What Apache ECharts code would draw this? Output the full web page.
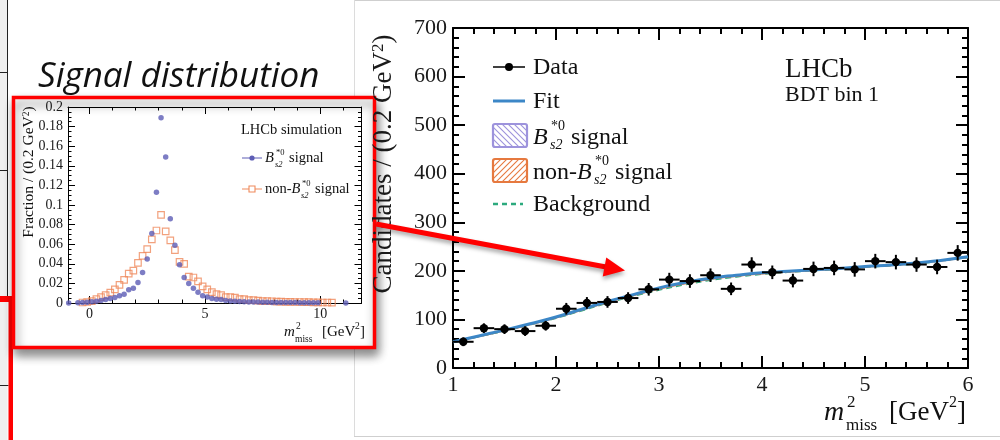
<!DOCTYPE html>
<html><head><meta charset="utf-8">
<script src="https://cdn.jsdelivr.net/npm/echarts@6/dist/echarts.min.js"></script>
<style>html,body{margin:0;padding:0;background:#fff}#c{width:1000px;height:440px}</style>
</head><body><div id="c"></div>
<script>
// ---------------- inset (simulation) data ----------------
var insetSigX = [-0.9,-0.5,-0.3,-0.1,0.1,0.3,0.5,0.7,0.9,1.1,1.3,1.5,1.7,1.9,2.1,2.3,2.5,2.7,2.9,3.1,3.3,3.5,3.7,3.9,4.1,4.3,4.5,4.7,4.9,5.1,5.3,5.5,5.7,5.9,6.1,6.3,6.5,6.7,6.9,7.1,7.3,7.5,7.7,7.9,8.1,8.3,8.5,8.7,8.9,9.1,9.3,9.5,9.7,9.9,11.1];
var insetSigY = [0,0.0002,0.0004,0.0008,0.0012,0.0018,0.0025,0.0035,0.0045,0.0055,0.0075,0.009,0.0135,0.015,0.021,0.031,0.045,0.071,0.113,0.189,0.149,0.086,0.059,0.039,0.026,0.02,0.015,0.011,0.0075,0.006,0.0045,0.0038,0.0035,0.0025,0.002,0.0018,0.0015,0.0012,0.001,0.001,0.0009,0.0008,0.0007,0.0006,0.0006,0.0005,0.0005,0.0004,0.0004,0.0003,0.0003,0.0003,0.0002,0.0002,0];
var insetNonX = [-0.3,-0.1,0.1,0.3,0.5,0.7,0.9,1.1,1.3,1.5,1.7,1.9,2.1,2.3,2.5,2.7,2.9,3.1,3.3,3.5,3.7,3.9,4.1,4.3,4.5,4.7,4.9,5.1,5.3,5.5,5.7,5.9,6.1,6.3,6.5,6.7,6.9,7.1,7.3,7.5,7.7,7.9,8.1,8.3,8.5,8.7,8.9,9.1,9.3,9.5,9.7,9.9,10.1,10.3,10.5];
var insetNonY = [0.0005,0.001,0.002,0.004,0.006,0.008,0.0105,0.014,0.0185,0.0235,0.03,0.033,0.041,0.048,0.055,0.065,0.074,0.09,0.073,0.064,0.054,0.042,0.04,0.027,0.026,0.022,0.017,0.014,0.011,0.009,0.008,0.006,0.006,0.0055,0.004,0.004,0.003,0.003,0.0025,0.002,0.002,0.0018,0.0015,0.0015,0.0012,0.0012,0.001,0.001,0.0008,0.0008,0.0006,0.0006,0.0005,0.0005,0.0004];
var insetXRange = [-0.93, 11.78];
var insetXTicks = [0, 5, 10];
var insetYTicks = [0, 0.02, 0.04, 0.06, 0.08, 0.1, 0.12, 0.14, 0.16, 0.18, 0.2];

// ---------------- main (data fit) data ----------------
var mainBinX = [1.1,1.3,1.5,1.7,1.9,2.1,2.3,2.5,2.7,2.9,3.1,3.3,3.5,3.7,3.9,4.1,4.3,4.5,4.7,4.9,5.1,5.3,5.5,5.7,5.9];
var mainCounts = [54,82,80,76,87,122,134,136,144,162,182,179,191,163,213,197,180,204,206,203,220,218,213,208,237];
var mainErr = [9,10,10,10,10,12,12,12,12,13,14,14,14,13,15,14,14,15,15,15,15,15,15,15,16];
var binHalf = 0.1;
var fitX = [1.0,1.25,1.5,1.75,2.0,2.25,2.5,2.75,3.0,3.25,3.5,3.75,4.0,4.25,4.5,4.75,5.0,5.25,5.5,5.75,6.0];
var fitY = [54,66,78,91,105,121,137,151,165,176,185,191,196,199,202,205,209,212,216,222,229];
var bkgY = [53,65,76.5,89.5,103,118.5,134,148,161,172,181,188,193.5,197.5,201,204,208,211,215,221,228];
var nonBY = [53.5,65.5,77,90,104,120,135.5,149.5,163,174,183,189.5,194.5,198,201.5,204.5,208.5,211.5,215.5,221.5,228.5];
var mainXTicks = [1, 2, 3, 4, 5, 6];
var mainYTicks = [0, 100, 200, 300, 400, 500, 600, 700];

var SERIF = 'Liberation Serif';
function zip(a, b) { return a.map(function (v, i) { return [v, b[i]]; }); }
function zip3(a, b, c) { return a.map(function (v, i) { return [v, b[i], c[i]]; }); }

function hatch(color, dir) {
  var c = document.createElement('canvas'); c.width = 6; c.height = 6;
  var g = c.getContext('2d'); g.strokeStyle = color; g.lineWidth = 1.1;
  g.beginPath();
  if (dir > 0) { g.moveTo(-1, 7); g.lineTo(7, -1); g.moveTo(-4, 4); g.lineTo(4, -4); g.moveTo(2, 10); g.lineTo(10, 2); }
  else { g.moveTo(-1, -1); g.lineTo(7, 7); g.moveTo(-4, 2); g.lineTo(4, 10); g.moveTo(2, -4); g.lineTo(10, 4); }
  g.stroke();
  return { image: c, repeat: 'repeat' };
}

function T(text, x, base, size, o) {
  o = o || {};
  return {
    type: 'text', x: x, y: base - 0.3 * size, z: o.z == null ? 20 : o.z, rotation: o.rot || 0,
    style: { text: text, fontSize: size, fontFamily: o.family || SERIF, fontStyle: o.italic ? 'italic' : 'normal',
      fill: o.color || '#111',
      align: o.align || 'left', textAlign: o.align || 'left',
      verticalAlign: 'middle', textVerticalAlign: 'middle' }
  };
}
function L(x1, y1, x2, y2, color, w, o) {
  o = o || {};
  return { type: 'line', z: o.z == null ? 20 : o.z, shape: { x1: x1, y1: y1, x2: x2, y2: y2 },
    style: { stroke: color, lineWidth: w, lineDash: o.dash || null } };
}

var graphics = [];
// slide decorations (left edge)
graphics.push({ type: 'rect', z: -10, shape: { x: 0, y: 0, width: 7.5, height: 440 }, style: { fill: '#efefef' } });
graphics.push(L(7.5, 0, 7.5, 298, '#222', 1, { z: -9 }));
graphics.push(L(0, 72.5, 7.5, 72.5, '#222', 1, { z: -9 }));
graphics.push(L(0, 170.5, 7.5, 170.5, '#222', 1, { z: -9 }));
graphics.push(L(0, 385.5, 8.5, 385.5, '#222', 1, { z: -9 }));
graphics.push({ type: 'rect', z: -8, shape: { x: 0, y: 296, width: 13, height: 6 }, style: { fill: '#ff0000' } });
graphics.push({ type: 'rect', z: -8, shape: { x: 8.5, y: 296, width: 4.5, height: 144 }, style: { fill: '#ff0000' } });
// screenshot frame of the right picture
graphics.push(L(354, 0.5, 1000, 0.5, '#cfcfcf', 1, { z: -9 }));
graphics.push(L(354.5, 0, 354.5, 437, '#dcdcdc', 1, { z: -9 }));
graphics.push(L(354, 436.5, 1000, 436.5, '#cfcfcf', 1, { z: -9 }));
// inset red frame with shadow
graphics.push({ type: 'rect', z: -5, shape: { x: 13.5, y: 97.5, width: 361, height: 250 },
  style: { fill: '#ffffff', stroke: '#ff0000', lineWidth: 3.5, shadowBlur: 10, shadowOffsetX: 2, shadowOffsetY: 6, shadowColor: 'rgba(0,0,0,0.45)' } });
// title
graphics.push(T('Signal distribution', 38, 88, 35, { italic: true, family: 'Open Sans', color: '#111' }));

// inset axis titles
graphics.push({ type: 'text', x: 29, y: 172, rotation: Math.PI / 2, z: 20,
  style: { text: '{a|Fraction / (0.2 GeV}{b|2}{a|)}', align: 'center', textAlign: 'center', verticalAlign: 'middle', textVerticalAlign: 'middle',
    rich: { a: { fontSize: 15.5, fontFamily: SERIF, fill: '#111' }, b: { fontSize: 9.5, fontFamily: SERIF, fill: '#111', verticalAlign: 'top' } } } });
graphics.push(T('m', 284, 337, 15, { italic: true }));
graphics.push(T('2', 296, 329, 9.5));
graphics.push(T('miss', 295, 342, 9.5));
graphics.push(T('[GeV', 322, 337, 15));
graphics.push(T('2', 355, 329, 9.5));
graphics.push(T(']', 360, 337, 15));
// inset legend
graphics.push(T('LHCb simulation', 241, 135, 14.5));
graphics.push(L(242, 158, 262, 158, '#5d5db5', 1));
graphics.push({ type: 'circle', z: 21, shape: { cx: 252, cy: 158, r: 2.6 }, style: { fill: '#5d5db5' } });
graphics.push(T('B', 265, 163, 14.5, { italic: true }));
graphics.push(T('*0', 276, 155, 8.5));
graphics.push(T('s2', 275, 167, 8.5, { italic: true }));
graphics.push(T('signal', 289, 163, 14.5));
graphics.push(L(242, 189, 262, 189, '#ef8a5c', 1));
graphics.push({ type: 'rect', z: 21, shape: { x: 249, y: 186, width: 6, height: 6 }, style: { fill: '#fff', stroke: '#ef8a5c', lineWidth: 1.1 } });
graphics.push(T('non-', 265, 194, 14.5));
graphics.push(T('B', 291.5, 194, 14.5, { italic: true }));
graphics.push(T('*0', 302, 186, 8.5));
graphics.push(T('s2', 301, 198, 8.5, { italic: true }));
graphics.push(T('signal', 315, 194, 14.5));

// main axis titles
graphics.push({ type: 'text', x: 384, y: 164, rotation: Math.PI / 2, z: 20,
  style: { text: '{a|Candidates / (0.2 GeV}{b|2}{a|)}', align: 'center', textAlign: 'center', verticalAlign: 'middle', textVerticalAlign: 'middle',
    rich: { a: { fontSize: 27, fontFamily: SERIF, fill: '#1a1a1a' }, b: { fontSize: 17, fontFamily: SERIF, fill: '#1a1a1a', verticalAlign: 'top' } } } });
graphics.push(T('m', 824, 421, 28, { italic: true }));
graphics.push(T('2', 847, 408, 17));
graphics.push(T('miss', 846, 431, 17));
graphics.push(T('[GeV', 889, 421, 27));
graphics.push(T('2', 949, 408, 16));
graphics.push(T(']', 957, 421, 27));
// main labels
graphics.push(T('LHCb', 785, 78, 27));
graphics.push(T('BDT bin 1', 785, 102, 22));
// main legend
graphics.push(L(493, 67, 525, 67, '#000', 1.5));
graphics.push({ type: 'circle', z: 21, shape: { cx: 509, cy: 67, r: 4 }, style: { fill: '#000' } });
graphics.push(T('Data', 533, 75, 24));
graphics.push(L(493, 101, 525, 101, '#3c87c7', 3));
graphics.push(T('Fit', 533, 109, 24));
graphics.push({ type: 'rect', z: 20, shape: { x: 493, y: 124, width: 34, height: 23, r: 2 }, style: { fill: hatch('#9d93dc', -1), stroke: '#9d93dc', lineWidth: 2.2 } });
graphics.push(T('B', 533, 145, 24, { italic: true }));
graphics.push(T('*0', 551, 131, 14));
graphics.push(T('s2', 550, 150, 14, { italic: true }));
graphics.push(T('signal', 571, 145, 24));
graphics.push({ type: 'rect', z: 20, shape: { x: 493, y: 159, width: 34, height: 23, r: 2 }, style: { fill: hatch('#e6793f', 1), stroke: '#e6793f', lineWidth: 2.2 } });
graphics.push(T('non-', 533, 180, 24));
graphics.push(T('B', 577, 180, 24, { italic: true }));
graphics.push(T('*0', 595, 166, 14));
graphics.push(T('s2', 594, 185, 14, { italic: true }));
graphics.push(T('signal', 615, 180, 24));
graphics.push(L(493, 204, 523, 204, '#2caa7e', 2.5, { dash: [5, 4] }));
graphics.push(T('Background', 533, 212, 24));

// red arrow
graphics.push({ type: 'line', z: 100, shape: { x1: 376, y1: 224, x2: 606, y2: 267 },
  style: { stroke: '#ff0000', lineWidth: 5, shadowBlur: 4, shadowOffsetY: 3, shadowColor: 'rgba(0,0,0,0.35)' } });
graphics.push({ type: 'polygon', z: 101, shape: { points: [[625, 270.5], [602.7, 276.5], [606.3, 257.5]] },
  style: { fill: '#ff0000', shadowBlur: 4, shadowOffsetY: 3, shadowColor: 'rgba(0,0,0,0.35)' } });

function fmt5(v) { return (Math.abs(v / 5 - Math.round(v / 5)) < 1e-6) ? String(Math.round(v)) : ''; }

var lbl = function (size, margin, extra) {
  var o = { fontFamily: SERIF, fontSize: size, color: '#1a1a1a', margin: margin };
  for (var k in (extra || {})) o[k] = extra[k];
  return o;
};

var option = {
  animation: false,
  backgroundColor: '#ffffff',
  textStyle: { fontFamily: SERIF },
  graphic: { elements: graphics },
  grid: [
    { left: 68, top: 107, width: 293.5, height: 196, containLabel: false },
    { left: 453, top: 28, width: 515, height: 340, containLabel: false },
    { left: 89.47, top: 107, width: 272.0, height: 196, containLabel: false }
  ],
  xAxis: [
    { gridIndex: 0, type: 'value', position: 'bottom', min: insetXRange[0], max: insetXRange[1],
      axisLine: { show: true, onZero: false, lineStyle: { color: '#000', width: 1 } }, axisTick: { show: false }, axisLabel: { show: false }, splitLine: { show: false } },
    { gridIndex: 0, type: 'value', position: 'top', min: insetXRange[0], max: insetXRange[1],
      axisLine: { show: true, onZero: false, lineStyle: { color: '#000', width: 1 } }, axisTick: { show: false }, axisLabel: { show: false }, splitLine: { show: false } },
    { gridIndex: 1, type: 'value', position: 'bottom', min: mainXTicks[0], max: mainXTicks[mainXTicks.length - 1], interval: mainXTicks[1] - mainXTicks[0],
      axisLine: { show: true, onZero: false, lineStyle: { color: '#000', width: 2 } },
      axisTick: { show: true, inside: true, length: 12, lineStyle: { color: '#000', width: 2 } },
      minorTick: { show: true, splitNumber: 5, length: 6, lineStyle: { color: '#000', width: 2 } },
      axisLabel: lbl(22, 6), splitLine: { show: false } },
    { gridIndex: 1, type: 'value', position: 'top', min: mainXTicks[0], max: mainXTicks[mainXTicks.length - 1], interval: mainXTicks[1] - mainXTicks[0],
      axisLine: { show: true, onZero: false, lineStyle: { color: '#000', width: 2 } },
      axisTick: { show: true, inside: true, length: 12, lineStyle: { color: '#000', width: 2 } },
      minorTick: { show: true, splitNumber: 5, length: 6, lineStyle: { color: '#000', width: 2 } },
      axisLabel: { show: false }, splitLine: { show: false } },
    { gridIndex: 2, type: 'value', position: 'bottom', min: insetXTicks[0], max: insetXRange[1], interval: insetXTicks[1] - insetXTicks[0],
      axisLine: { show: false, onZero: false },
      axisTick: { show: true, inside: true, length: 7, lineStyle: { color: '#000', width: 1 } },
      minorTick: { show: true, splitNumber: 5, length: 3.5, lineStyle: { color: '#000', width: 1 } },
      axisLabel: lbl(14, 4, { formatter: fmt5, showMaxLabel: false }), splitLine: { show: false } },
    { gridIndex: 2, type: 'value', position: 'top', min: insetXTicks[0], max: insetXRange[1], interval: insetXTicks[1] - insetXTicks[0],
      axisLine: { show: false, onZero: false },
      axisTick: { show: true, inside: true, length: 7, lineStyle: { color: '#000', width: 1 } },
      minorTick: { show: true, splitNumber: 5, length: 3.5, lineStyle: { color: '#000', width: 1 } },
      axisLabel: { show: false }, splitLine: { show: false } }
  ],
  yAxis: [
    { gridIndex: 0, type: 'value', position: 'left', min: insetYTicks[0], max: insetYTicks[insetYTicks.length - 1], interval: insetYTicks[1] - insetYTicks[0],
      axisLine: { show: true, onZero: false, lineStyle: { color: '#000', width: 1 } },
      axisTick: { show: true, inside: true, length: 7, lineStyle: { color: '#000', width: 1 } },
      minorTick: { show: true, splitNumber: 4, length: 3.5, lineStyle: { color: '#000', width: 1 } },
      axisLabel: lbl(14, 5), splitLine: { show: false } },
    { gridIndex: 0, type: 'value', position: 'right', min: insetYTicks[0], max: insetYTicks[insetYTicks.length - 1], interval: insetYTicks[1] - insetYTicks[0],
      axisLine: { show: true, onZero: false, lineStyle: { color: '#000', width: 1 } },
      axisTick: { show: true, inside: true, length: 7, lineStyle: { color: '#000', width: 1 } },
      minorTick: { show: true, splitNumber: 4, length: 3.5, lineStyle: { color: '#000', width: 1 } },
      axisLabel: { show: false }, splitLine: { show: false } },
    { gridIndex: 1, type: 'value', position: 'left', min: mainYTicks[0], max: mainYTicks[mainYTicks.length - 1], interval: mainYTicks[1] - mainYTicks[0],
      axisLine: { show: true, onZero: false, lineStyle: { color: '#000', width: 2 } },
      axisTick: { show: true, inside: true, length: 12, lineStyle: { color: '#000', width: 2 } },
      minorTick: { show: true, splitNumber: 5, length: 6, lineStyle: { color: '#000', width: 2 } },
      axisLabel: lbl(22, 6), splitLine: { show: false } },
    { gridIndex: 1, type: 'value', position: 'right', min: mainYTicks[0], max: mainYTicks[mainYTicks.length - 1], interval: mainYTicks[1] - mainYTicks[0],
      axisLine: { show: true, onZero: false, lineStyle: { color: '#000', width: 2 } },
      axisTick: { show: true, inside: true, length: 12, lineStyle: { color: '#000', width: 2 } },
      minorTick: { show: true, splitNumber: 5, length: 6, lineStyle: { color: '#000', width: 2 } },
      axisLabel: { show: false }, splitLine: { show: false } },
    { gridIndex: 2, type: 'value', show: false, min: 0, max: 1 }
  ],
  series: [
    { name: 'non-Bs2 signal (sim)', type: 'scatter', xAxisIndex: 0, yAxisIndex: 0, data: zip(insetNonX, insetNonY),
      symbol: 'rect', symbolSize: 6.5, itemStyle: { color: 'rgba(255,255,255,0)', borderColor: '#ef8a5c', borderWidth: 1.2 }, z: 3 },
    { name: 'Bs2 signal (sim)', type: 'scatter', xAxisIndex: 0, yAxisIndex: 0, data: zip(insetSigX, insetSigY),
      symbol: 'circle', symbolSize: 5.5, itemStyle: { color: '#5d5db5' }, z: 4 },
    { name: 'Background', type: 'line', xAxisIndex: 2, yAxisIndex: 2, data: zip(fitX, bkgY), smooth: true, showSymbol: false,
      lineStyle: { color: '#2caa7e', width: 2, type: [6, 4] }, z: 3 },
    { name: 'non-Bs2 signal', type: 'line', xAxisIndex: 2, yAxisIndex: 2, data: zip(fitX, nonBY), smooth: true, showSymbol: false,
      lineStyle: { color: '#e6793f', width: 2 }, z: 4 },
    { name: 'Fit', type: 'line', xAxisIndex: 2, yAxisIndex: 2, data: zip(fitX, fitY), smooth: true, showSymbol: false,
      lineStyle: { color: '#3c87c7', width: 3 }, z: 5 },
    { name: 'Data', type: 'custom', xAxisIndex: 2, yAxisIndex: 2, data: zip3(mainBinX, mainCounts, mainErr), z: 6,
      renderItem: function (params, api) {
        var x = api.value(0), y = api.value(1), e = api.value(2);
        var p = api.coord([x, y]);
        var l = api.coord([x - binHalf, y]), r = api.coord([x + binHalf, y]);
        var t = api.coord([x, y + e]), b = api.coord([x, y - e]);
        return { type: 'group', children: [
          { type: 'line', shape: { x1: l[0], y1: l[1], x2: r[0], y2: r[1] }, style: { stroke: '#000', lineWidth: 2 } },
          { type: 'line', shape: { x1: t[0], y1: t[1], x2: b[0], y2: b[1] }, style: { stroke: '#000', lineWidth: 2 } },
          { type: 'circle', shape: { cx: p[0], cy: p[1], r: 4.2 }, style: { fill: '#000' } }
        ] };
      } }
  ]
};
var chart = echarts.init(document.getElementById('c'));
chart.setOption(option);
</script>
</body></html>
